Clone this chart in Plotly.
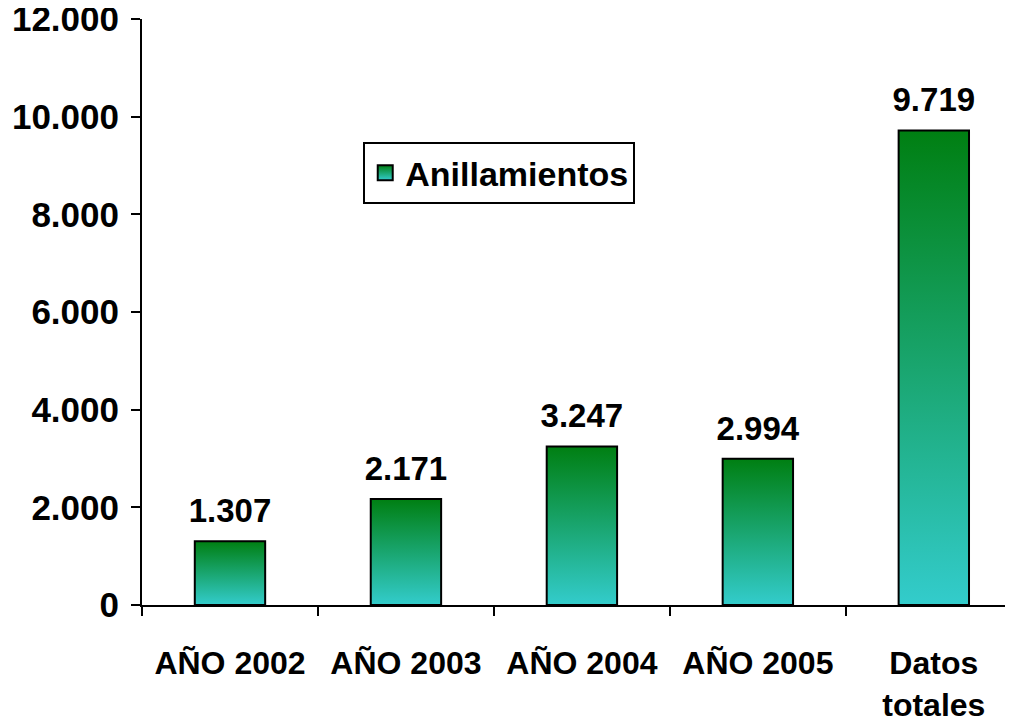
import plotly.graph_objects as go

categories = ["AÑO 2002", "AÑO 2003", "AÑO 2004", "AÑO 2005", "Datos<br>totales"]
values = [1307, 2171, 3247, 2994, 9719]
value_labels = ["1.307", "2.171", "3.247", "2.994", "9.719"]
series_name = "Anillamientos"
y_ticks = [0, 2000, 4000, 6000, 8000, 10000, 12000]
y_ticktext = ["0", "2.000", "4.000", "6.000", "8.000", "10.000", "12.000"]

FONT = "Liberation Sans, Arial, sans-serif"
half_w = 0.2
green, cyan = "#007f12", "#33cccc"
grad = [[0, cyan], [1, green]]

fig = go.Figure()
xs = list(range(len(categories)))
for i, (x, v) in enumerate(zip(xs, values)):
    fig.add_trace(go.Scatter(
        x=[x - half_w, x + half_w, x + half_w, x - half_w, x - half_w],
        y=[0, 0, v, v, 0],
        mode="lines",
        fill="toself",
        fillgradient=dict(type="vertical", colorscale=grad),
        line=dict(color="black", width=2),
        showlegend=False,
        hoverinfo="skip",
    ))

# legend entry
fig.add_trace(go.Scatter(
    x=[None], y=[None], mode="markers", name=series_name,
    marker=dict(symbol="square", size=15, color=green,
                gradient=dict(type="vertical", color=cyan),
                line=dict(color="black", width=2)),
))

fig.add_trace(go.Scatter(
    x=xs, y=values, mode="markers+text", text=value_labels,
    textposition="top center",
    marker=dict(size=16, opacity=0),
    textfont=dict(family=FONT, size=33, color="black", weight="bold"),
    showlegend=False, cliponaxis=False, hoverinfo="skip",
))

fig.update_layout(
    width=1005, height=715,
    margin=dict(l=134, r=0, t=11, b=118, autoexpand=False),
    paper_bgcolor="white", plot_bgcolor="white",
    font=dict(family=FONT, color="black", size=32, weight="bold"),
    showlegend=True,
    legend=dict(
        x=0.254, y=0.79, xanchor="left", yanchor="top",
        bordercolor="black", borderwidth=2, bgcolor="white",
        font=dict(family=FONT, size=34, color="black", weight="bold"),
        itemwidth=30, tracegroupgap=0,
    ),
    xaxis=dict(
        range=[-0.5, 4.45], tickvals=xs, ticktext=categories,
        ticks="", showline=True, linecolor="black", linewidth=2,
        showgrid=False, zeroline=False, ticklabelstandoff=29, automargin=False,
        ticklabeloverflow="allow",
        minor=dict(tickvals=[x - 0.5 for x in xs] + [xs[-1] + 0.5],
                   ticks="outside", ticklen=9, tickwidth=2, tickcolor="black"),
        tickfont=dict(family=FONT, size=32, color="black", weight="bold"),
    ),
    yaxis=dict(
        range=[0, 12000], tickvals=y_ticks, ticktext=y_ticktext,
        ticks="outside", ticklen=9, tickwidth=2, tickcolor="black",
        showline=True, linecolor="black", linewidth=2, automargin=False,
        showgrid=False, zeroline=False, ticklabelstandoff=5,
        ticklabeloverflow="allow",
        tickfont=dict(family=FONT, size=35, color="black", weight="bold"),
    ),
)

fig.write_html("out.html")
